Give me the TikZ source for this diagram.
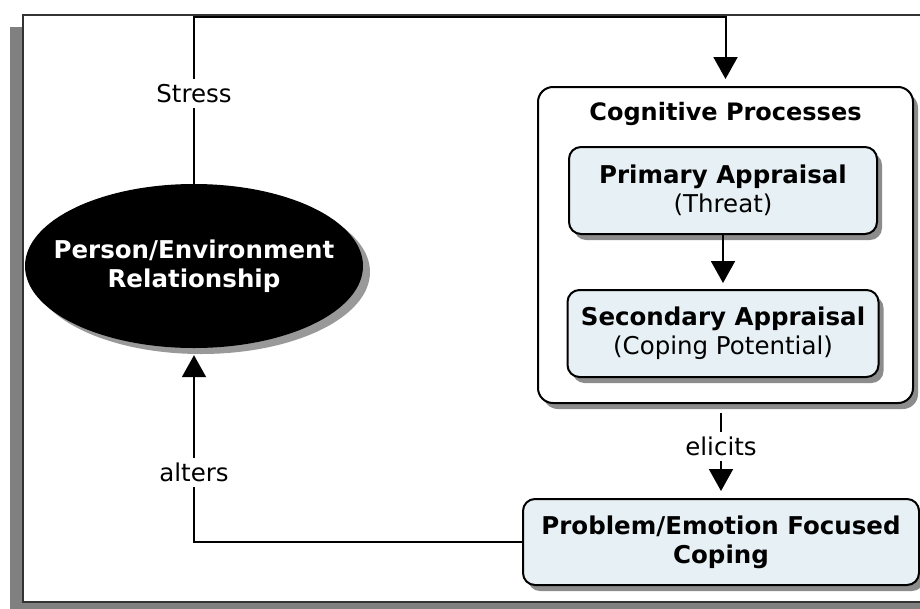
\documentclass[tikz,border=0pt]{standalone}
\usepackage{fontspec}
\setmainfont{DejaVu Sans}
\usetikzlibrary{shapes.geometric,arrows.meta,positioning,shadows}
\definecolor{boxfill}{RGB}{231,240,244}
\definecolor{framegray}{RGB}{128,128,128}

\begin{document}
\begin{tikzpicture}[x=1pt,y=-1pt,
  every node/.style={font=\fontsize{24.5}{29}\selectfont},
  box/.style={draw,rounded corners=12pt,line width=2pt,fill=boxfill,align=center,inner sep=0pt,
    drop shadow={shadow xshift=5pt,shadow yshift=-6pt,fill=black!45,opacity=1}},
  lbl/.style={fill=white,inner sep=5pt},
  arr/.style={line width=2pt,-{Triangle[width=24pt,length=22pt]}}]
	% page and frame
	\useasboundingbox (0,0) rectangle (920,608);
	\clip (0,0) rectangle (920,608);
	\fill[white] (0,0) rectangle (920,608);
	\fill[framegray] (10,27) rectangle (940,620);
	\draw[fill=white, draw=black!80, line width=1.8pt] (23,15) rectangle (935,602);

	% create the nodes
	\node (per)[ellipse, fill=black, text=white, minimum width=338pt, minimum height=164pt, inner xsep=-30pt, inner ysep=0pt, align=center,
	  font=\fontsize{24.5}{29}\selectfont\bfseries,
	  drop shadow={shadow xshift=7pt,shadow yshift=-6pt,fill=black!40,opacity=1}] at (194,266) {Person/Environment\\Relationship};
	\node (cog)[draw, fill=white, rounded corners=15pt, line width=2pt, minimum width=375pt, minimum height=316pt,
	  drop shadow={shadow xshift=5pt,shadow yshift=-6pt,fill=black!45,opacity=1}] at (725.5,245) {};
	\node (cogtitle)[font=\fontsize{24}{29}\selectfont\bfseries] at (725.5,114) {Cognitive Processes};
	\node (prim)[box, minimum width=308pt, minimum height=87pt] at (723,190.5) {\textbf{Primary Appraisal}\\(Threat)};
	\node (sec)[box, minimum width=311pt, minimum height=87pt, below=54pt of prim] {\textbf{Secondary Appraisal}\\(Coping Potential)};
	\node (cope)[box, minimum width=396pt, minimum height=86pt, font=\fontsize{24.5}{29}\selectfont\bfseries] at (721,542) {Problem/Emotion Focused\\Coping};
	\coordinate (topl) at (per.north |- 0,17);

	% connect the nodes
	\draw[arr, shorten >=7pt] (per.north) -- node[lbl, pos=0.54]{Stress} (topl) -| (cog.north);
	\draw[arr, shorten >=6pt] (prim.south) -- (sec.north);
	\draw[arr, shorten <=9pt, shorten >=7pt] (cope.north |- cog.south) -- node[lbl, pos=0.45]{elicits} (cope.north);
	\draw[arr, shorten >=7pt] (cope.west) -| node[lbl, pos=0.68]{alters} (per.south);
\end{tikzpicture}
\end{document}
